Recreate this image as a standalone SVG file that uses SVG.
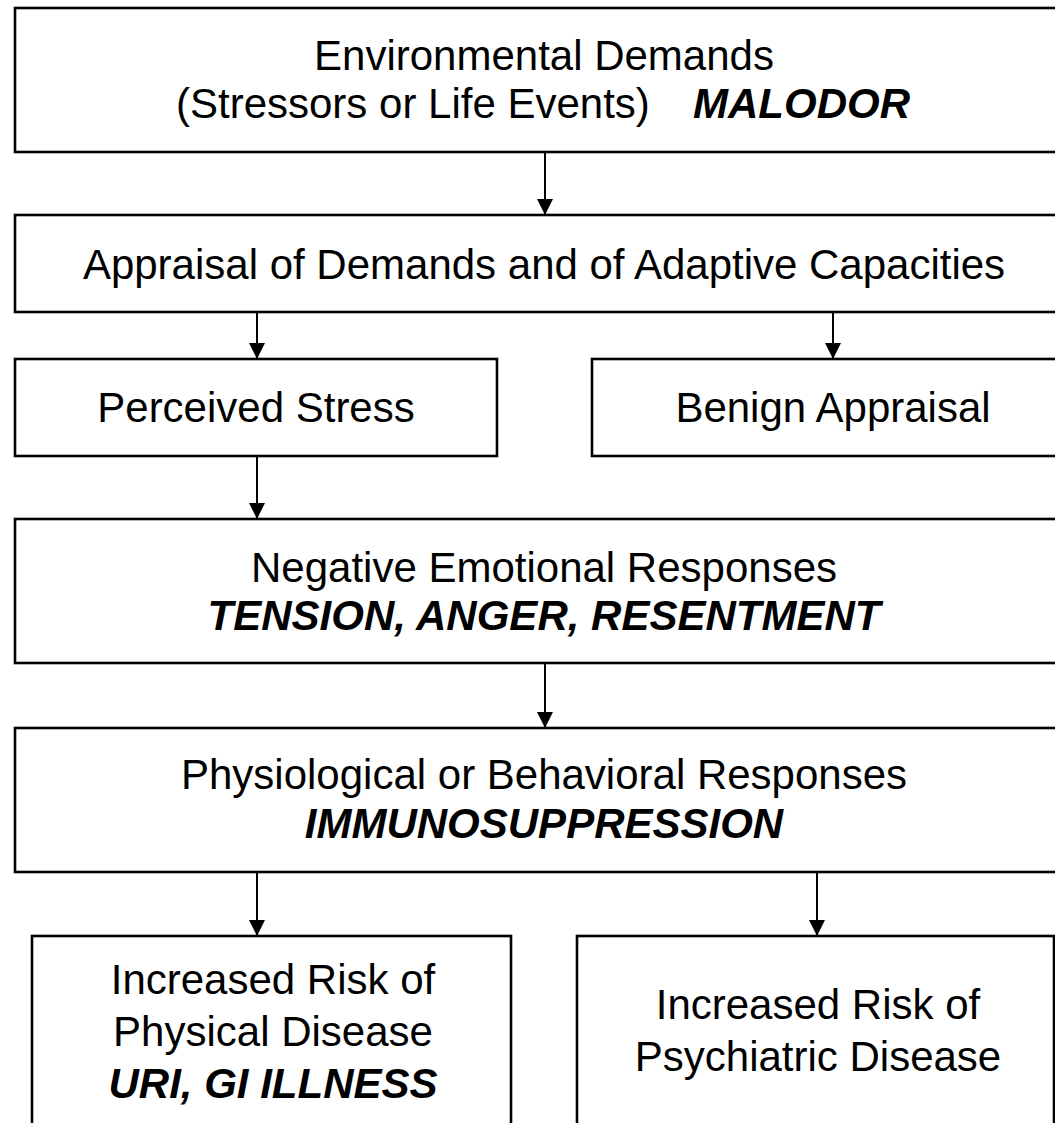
<svg xmlns="http://www.w3.org/2000/svg" width="1055" height="1123" viewBox="0 0 1055 1123">
<style>
.box{fill:#fff;stroke:#000;stroke-width:2.6}
.t{font-family:"Liberation Sans",Arial,sans-serif;font-size:42px;fill:#000;text-anchor:middle}
.bi{font-weight:bold;font-style:italic}
.c{stroke:#000;stroke-width:2;fill:none;marker-end:url(#ah)}
</style>
<defs>
<marker id="ah" markerUnits="userSpaceOnUse" markerWidth="16" markerHeight="16" refX="16" refY="8" orient="auto">
<path d="M0,0 L16,8 L0,16 z" fill="#000"/>
</marker>
</defs>
<rect width="1055" height="1123" fill="#fff"/>
<g id="connectors">
<line class="c" x1="545" y1="152" x2="545" y2="215"/>
<line class="c" x1="257" y1="312" x2="257" y2="359"/>
<line class="c" x1="833" y1="312" x2="833" y2="359"/>
<line class="c" x1="257" y1="456" x2="257" y2="519"/>
<line class="c" x1="545" y1="663" x2="545" y2="728"/>
<line class="c" x1="257" y1="872" x2="257" y2="936"/>
<line class="c" x1="817" y1="872" x2="817" y2="936"/>
</g>
<g id="env">
<rect class="box" x="15" y="8" width="1060" height="144"/>
<text class="t" x="544" y="70">Environmental Demands</text>
<text class="t" x="176" y="118" style="text-anchor:start">(Stressors or Life Events)</text>
<text class="t bi" x="693" y="118" style="text-anchor:start">MALODOR</text>
</g>
<g id="appraisal">
<rect class="box" x="15" y="215" width="1060" height="97"/>
<text class="t" x="544" y="279">Appraisal of Demands and of Adaptive Capacities</text>
</g>
<g id="perceived">
<rect class="box" x="15" y="359" width="482" height="97"/>
<text class="t" x="256" y="422">Perceived Stress</text>
</g>
<g id="benign">
<rect class="box" x="592" y="359" width="483" height="97"/>
<text class="t" x="833" y="422">Benign Appraisal</text>
</g>
<g id="negative">
<rect class="box" x="15" y="519" width="1060" height="144"/>
<text class="t" x="544" y="582">Negative Emotional Responses</text>
<text class="t bi" x="544" y="630">TENSION, ANGER, RESENTMENT</text>
</g>
<g id="physio">
<rect class="box" x="15" y="728" width="1060" height="144"/>
<text class="t" x="544" y="789">Physiological or Behavioral Responses</text>
<text class="t bi" x="544" y="838">IMMUNOSUPPRESSION</text>
</g>
<g id="physical">
<rect class="box" x="32" y="936" width="479" height="220"/>
<text class="t" x="273" y="994">Increased Risk of</text>
<text class="t" x="273" y="1046">Physical Disease</text>
<text class="t bi" x="273" y="1098">URI, GI ILLNESS</text>
</g>
<g id="psychiatric">
<rect class="box" x="577" y="936" width="477" height="220"/>
<text class="t" x="818" y="1019">Increased Risk of</text>
<text class="t" x="818" y="1071">Psychiatric Disease</text>
</g>
</svg>
